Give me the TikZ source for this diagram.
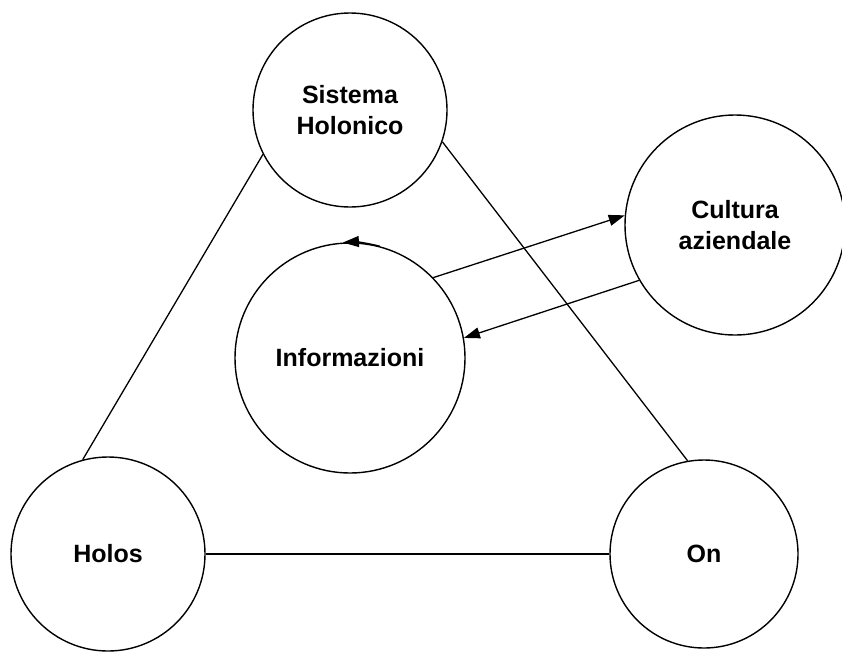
\documentclass[tikz,border=0pt]{standalone}
\usepackage{fontspec}
\setmainfont{Liberation Sans}
\usetikzlibrary{arrows.meta}

\begin{document}
\begin{tikzpicture}[x=1pt,y=-1pt,
		holon/.style={circle,draw=black,line width=1.4pt,inner sep=0pt,align=center,
			font=\fontsize{25}{31}\selectfont\bfseries},
		link/.style={line width=1.3pt},
		flow/.style={line width=1.3pt,-{Triangle[length=16pt,width=11pt]}}]
		
		\useasboundingbox (0,0) rectangle (842,651);
		
		% node positions
		\node[holon,minimum size=194pt](sistema) at (350,110) {Sistema\\Holonico};
		\node[holon,minimum size=220pt](cultura) at (735,225) {Cultura\\aziendale};
		\node[holon,minimum size=230pt](info) at (350,358) {Informazioni};
		\node[holon,minimum size=194pt](holos) at (108,554) {Holos};
		\node[holon,minimum size=188pt](on) at (704,554) {On};
		
		% triangle
		\draw[link] (sistema.207) -- (holos.105);
		\draw[link] (sistema.341) -- (on.100);
		\draw[link] (holos.east) -- (on.west);
		
		% exchange
		\draw[flow] (info.44) -- (cultura.175);
		\draw[flow] (cultura.210) -- (info.10);
		\draw[flow] (info.75) arc[start angle=-75,end angle=-93.5,radius=115.7];
		
	\end{tikzpicture}
\end{document}
